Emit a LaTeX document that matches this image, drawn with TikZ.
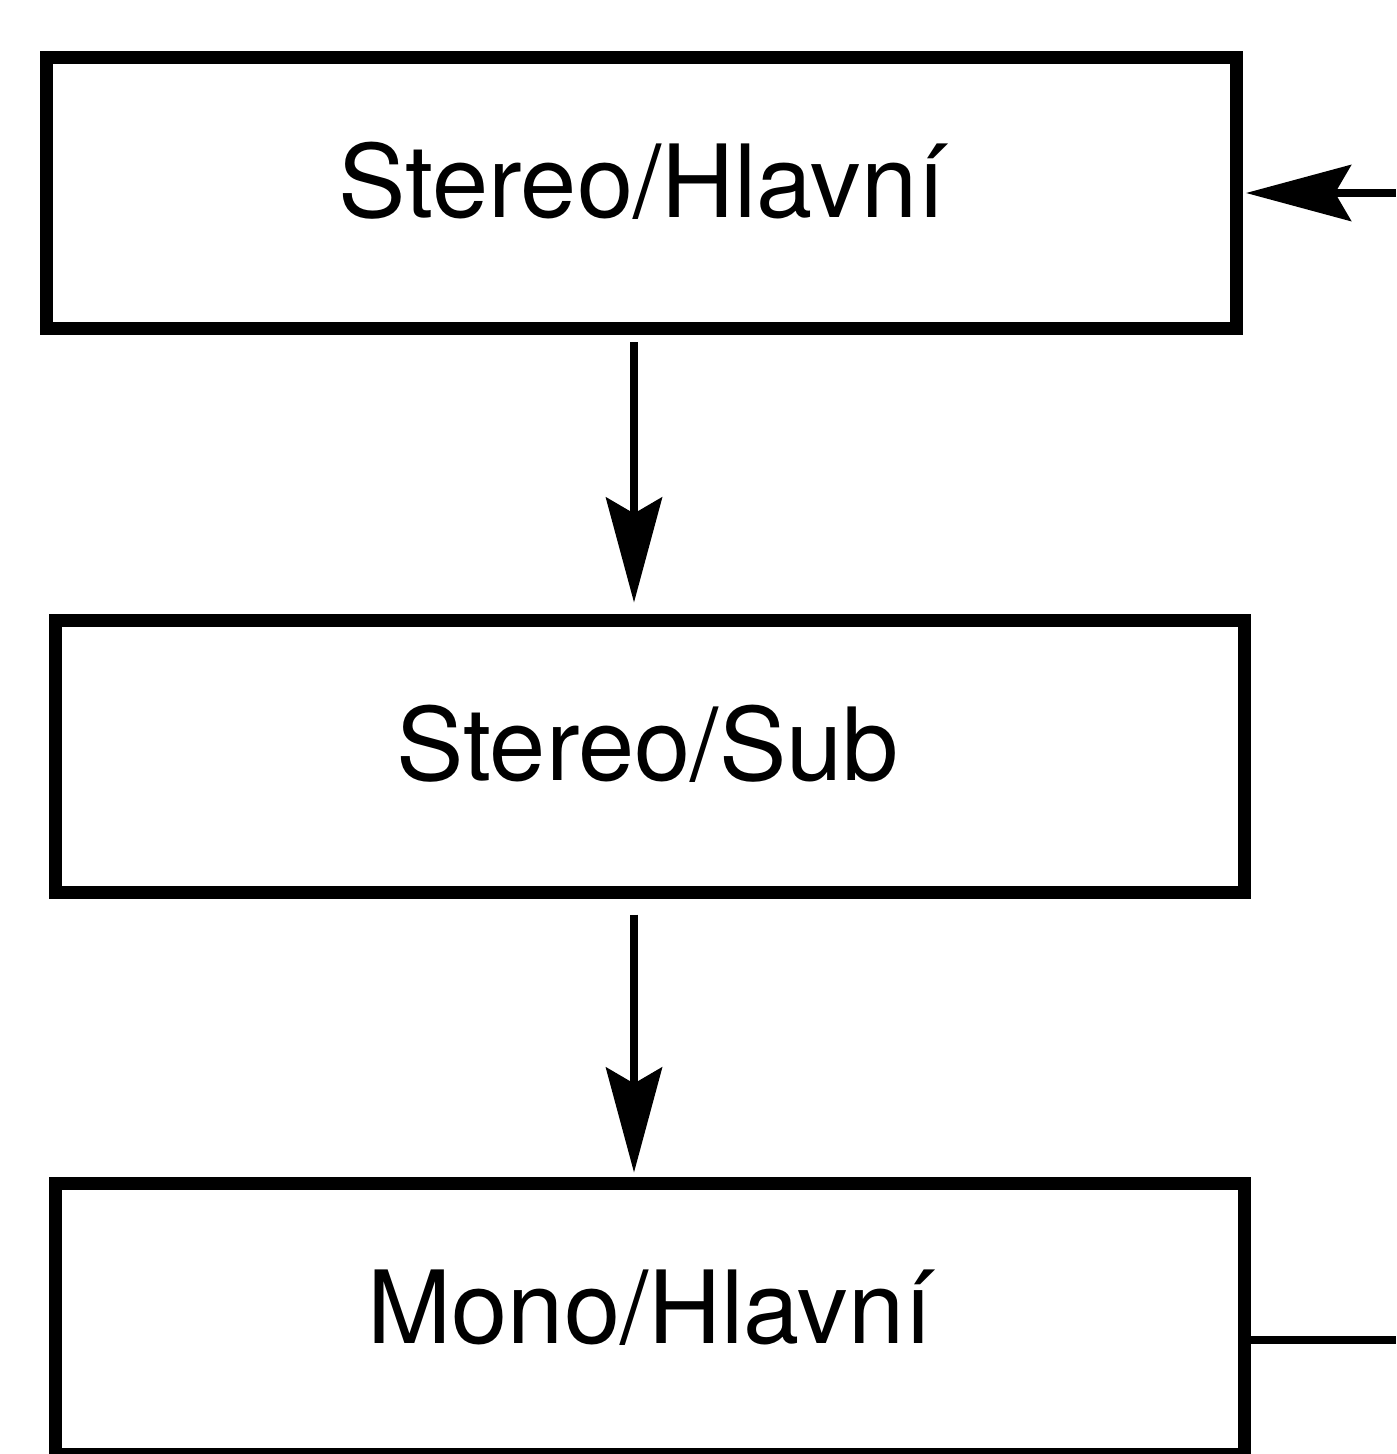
\documentclass[tikz,border=0pt]{standalone}
\usepackage{fontspec}
\setmainfont{TeX Gyre Heros}
\usetikzlibrary{arrows.meta}
\begin{document}
\begin{tikzpicture}[x=0.5pt,y=-0.5pt,
  boxnode/.style={draw=black, line width=6.5pt, rectangle, inner sep=0pt, fill=white},
  lbl/.style={anchor=base, inner sep=0pt, font=\fontsize{50.5pt}{60pt}\selectfont},
  arr/.style={line width=3.6pt, -{Stealth[length=52.5pt, width=28pt, inset=8pt]}},
  conn/.style={line width=3.6pt}]
\useasboundingbox (0,0) rectangle (1396,1454);
\node[boxnode, minimum width=595pt, minimum height=135.75pt] (b1) at (641.5,193.25) {};
\node[boxnode, minimum width=594.75pt, minimum height=136pt] (b2) at (649.75,756) {};
\node[boxnode, minimum width=594.75pt, minimum height=135.5pt] (b3) at (649.75,1318.5) {};
\node[lbl] (t1) at (642,218) {Stereo/Hlavní};
\node[lbl] (t2) at (647.5,780) {Stereo/Sub};
\node[lbl] (t3) at (650,1343) {Mono/Hlavní};
\coordinate (ax) at (634,0);
\coordinate (inR) at (1396,193);
\coordinate (outR) at (1396,1340);
\draw[arr, shorten <=3.5pt, shorten >=5.5pt] (b1.south -| ax) -- (b2.north -| ax);
\draw[arr, shorten <=8pt, shorten >=2pt] (b2.south -| ax) -- (b3.north -| ax);
\draw[arr, shorten >=1.5pt] (inR) -- (b1.east |- inR);
\draw[conn] (b3.east |- outR) -- (outR);
\end{tikzpicture}
\end{document}
